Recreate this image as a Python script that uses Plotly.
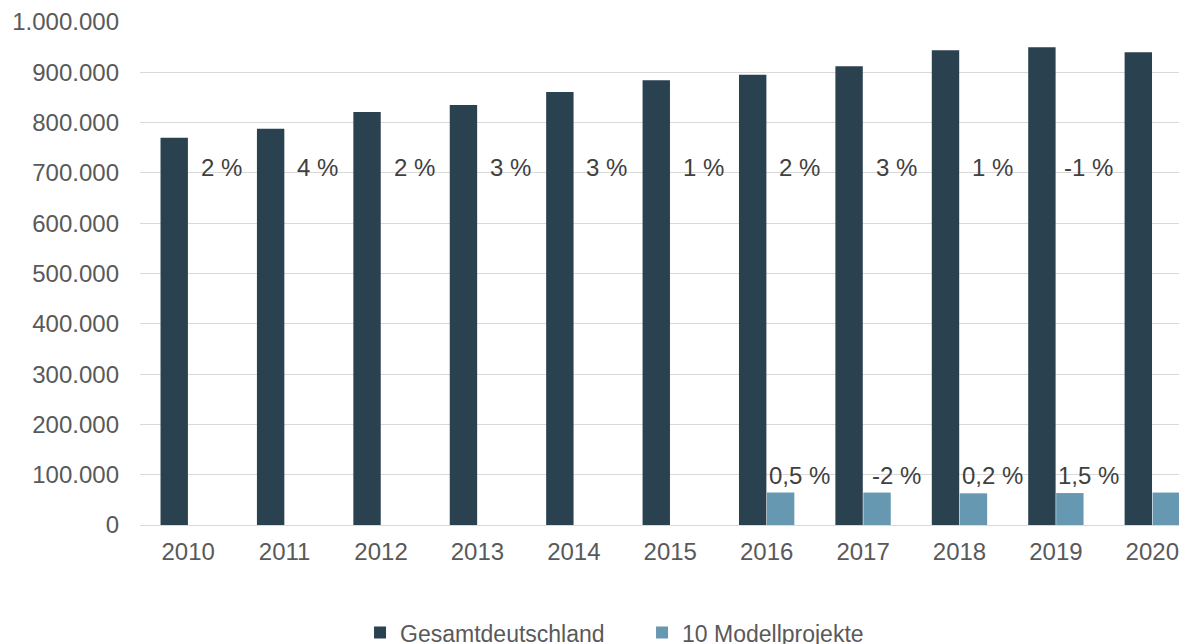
import plotly.graph_objects as go

years = ["2010", "2011", "2012", "2013", "2014", "2015", "2016", "2017", "2018", "2019", "2020"]
gesamt = [770000, 788000, 821000, 835000, 861000, 884000, 895000, 912000, 944000, 950000, 940000]
modell = [None, None, None, None, None, None, 64500, 64500, 63000, 63500, 64500]

gesamt_pct = ["2 %", "4 %", "2 %", "3 %", "3 %", "1 %", "2 %", "3 %", "1 %", "-1 %"]
modell_pct_years = ["2016", "2017", "2018", "2019"]
modell_pct = ["0,5 %", "-2 %", "0,2 %", "1,5 %"]

DARK = "#2A4150"
LIGHT = "#6699B1"
FONT = "Liberation Sans, Arial, sans-serif"

fig = go.Figure()
fig.add_trace(go.Bar(x=years, y=gesamt, name="Gesamtdeutschland",
                     marker=dict(color=DARK, line=dict(width=0))))
fig.add_trace(go.Bar(x=years, y=modell, name="10 Modellprojekte",
                     marker=dict(color=LIGHT, line=dict(width=0))))

annotations = []
for yr, txt in zip(years[:10], gesamt_pct):
    annotations.append(dict(x=years.index(yr), y=710000, text=txt, showarrow=False,
                            xanchor="center", yanchor="middle", xshift=33,
                            font=dict(family=FONT, size=24, color="#404040")))
for yr, txt in zip(modell_pct_years, modell_pct):
    annotations.append(dict(x=years.index(yr), y=99000, text=txt, showarrow=False,
                            xanchor="center", yanchor="middle", xshift=33,
                            font=dict(family=FONT, size=24, color="#404040")))

fig.update_layout(
    width=1179, height=636,
    margin=dict(l=132, r=0, t=14, b=119, autoexpand=False),
    paper_bgcolor="white", plot_bgcolor="white",
    barmode="group", bargap=0.42, bargroupgap=0.02,
    separators=",.",
    font=dict(family=FONT, size=24, color="#595959"),
    annotations=annotations,
    showlegend=True,
    legend=dict(orientation="h", x=0.4795, xanchor="center", y=-0.214, yanchor="middle",
                font=dict(family=FONT, size=23, color="#595959"),
                entrywidth=237, entrywidthmode="pixels",
                itemclick=False, itemdoubleclick=False),
    hovermode=False,
)
fig.update_xaxes(type="category", range=[-0.5, 10.36], showgrid=False,
                 showline=True, linecolor="#D9D9D9", linewidth=1,
                 ticks="", ticklabelstandoff=5,
                 tickfont=dict(family=FONT, size=24, color="#595959"))
fig.update_yaxes(range=[0, 1000000], dtick=100000, tickformat=",d",
                 showgrid=True, gridcolor="#D9D9D9", gridwidth=1,
                 zeroline=False, showline=False, ticks="",
                 ticklabelstandoff=20,
                 tickfont=dict(family=FONT, size=24, color="#595959"))

fig.write_html("out.html")
